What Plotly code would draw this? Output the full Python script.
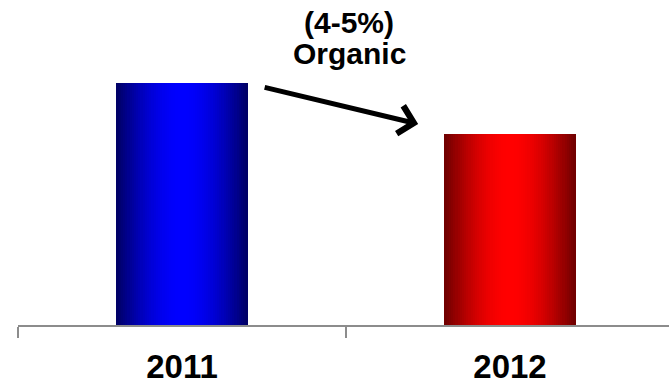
import math
import plotly.graph_objects as go

# Data
years = ["2011", "2012"]
values = [100, 79]
bar_colors_dark = [(0, 0, 100), (110, 0, 0)]
bar_colors_bright = [(0, 0, 255), (255, 0, 0)]
note_lines = ["(4-5%)", "Organic"]

FONT = "Liberation Sans, Arial, sans-serif"
BAR_W = 0.4
N_SLICES = 60
slice_w = BAR_W / N_SLICES
PLOT_H = 325  # plot area height in px


def shade(dark, bright, t):
    f = math.sin(math.pi * t)
    return "rgb({},{},{})".format(*[round(d + (b - d) * f) for d, b in zip(dark, bright)])


fig = go.Figure()
# Cylinder-like horizontal shading: each slice runs from its offset to the bar's
# right edge, later (rightward) slices overlay earlier ones to avoid seams.
for i in range(N_SLICES):
    t = (i + 0.5) / N_SLICES
    fig.add_trace(go.Bar(
        x=years,
        y=values,
        offset=-BAR_W / 2 + i * slice_w,
        width=BAR_W - i * slice_w,
        marker=dict(
            color=[shade(d, b, t) for d, b in zip(bar_colors_dark, bar_colors_bright)],
            line=dict(width=0),
        ),
        hoverinfo="skip",
        showlegend=False,
    ))

ymax = values[0] * PLOT_H / 242

# Arrow from the 2011 bar towards the 2012 bar
fig.add_annotation(
    x=0.72, y=values[0] * 201 / 242, xref="x", yref="y",
    ax=-155, ay=-37, axref="pixel", ayref="pixel",
    text="", showarrow=True,
    arrowhead=4, arrowsize=1.1, arrowwidth=5, arrowcolor="black",
    standoff=0, startstandoff=0,
)
# Two-line note above the arrow, with tight line spacing
for line, py in zip(note_lines, [22.5, 53.5]):
    fig.add_annotation(
        x=0.51, y=1 - py / PLOT_H, xref="x", yref="paper",
        text=line, showarrow=False,
        font=dict(family=FONT, size=30, color="black", weight="bold"),
        align="center", yanchor="middle",
    )

fig.update_layout(
    width=669, height=385,
    margin=dict(l=18, r=0, t=0, b=385 - PLOT_H),
    barmode="overlay",
    bargap=0,
    paper_bgcolor="white",
    plot_bgcolor="white",
    xaxis=dict(
        type="category",
        range=[-0.5, -0.5 + 651 / 328],
        showline=True, linecolor="#8c8c8c", linewidth=2,
        ticks="outside", tickson="boundaries", ticklen=11, tickwidth=2, tickcolor="#8c8c8c",
        ticklabelstandoff=11,
        tickfont=dict(family=FONT, size=33, color="black", weight="bold"),
        showgrid=False, zeroline=False,
    ),
    yaxis=dict(
        range=[0, ymax], visible=False, showgrid=False, zeroline=False,
    ),
)

fig.write_html("out.html")
